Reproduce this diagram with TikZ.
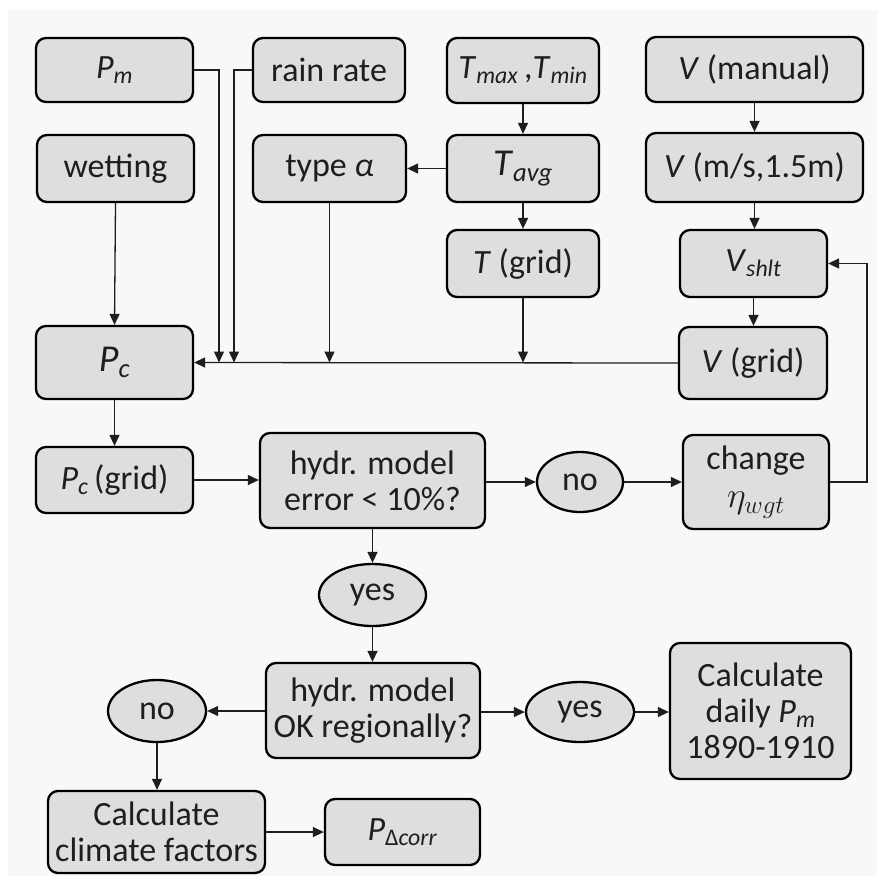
\RequirePackage{fix-cm}
\documentclass[tikz,border=0pt]{standalone}
\usepackage{fontspec}
\setmainfont{Carlito}
\usetikzlibrary{arrows.meta,shapes.geometric}
\definecolor{boxfill}{HTML}{DEDEDE}
\definecolor{panel}{HTML}{F8F8F8}
\definecolor{ink}{HTML}{1E1E1E}
\newcommand{\sbi}[1]{\textsubscript{\textit{#1}}}
\tikzset{
  box/.style={draw=black, line width=2.3pt, fill=boxfill, rounded corners=10pt, align=center,
    text=ink, font=\fontsize{34}{36}\selectfont, inner sep=0pt},
  oval/.style={draw=black, line width=2.3pt, fill=boxfill, ellipse, align=center,
    text=ink, font=\fontsize{34}{36}\selectfont, inner sep=0pt},
  conn/.style={draw=ink, line width=1.3pt},
  arr/.style={conn, -{Triangle[length=11pt,width=10pt]}},
}
\begin{document}
\begin{tikzpicture}[x=1pt,y=-1pt]
\useasboundingbox (0,0) rectangle (877,876);
\fill[white] (0,0) rectangle (877,876);
\fill[panel] (8,10) rectangle (877,876);

\node[box, minimum width=157pt, minimum height=64pt] (Pm) at (114.5,70) {\textit{P}\sbi{m}};
\node[box, minimum width=152pt, minimum height=64pt] (rain) at (329,70) {rain rate};
\node[box, minimum width=157pt, minimum height=67pt] (wet) at (115.5,168.5) {wetting};
\node[box, minimum width=153pt, minimum height=67pt] (typea) at (329.5,168.5) {type \textit{α}};
\node[box, minimum width=152pt, minimum height=65pt] (Tmm) at (523,70.5) {\textit{T}\sbi{max}\,,\textit{T}\sbi{min}};
\node[box, minimum width=217pt, minimum height=65pt] (Vman) at (754.5,69.5) {\textit{V} (manual)};
\node[box, minimum width=152pt, minimum height=67pt] (Tavg) at (523,168.5) {\fontsize{38}{40}\selectfont\textit{T}\sbi{avg}};
\node[box, minimum width=217pt, minimum height=69pt] (Vms) at (754.5,167.5) {\textit{V} (m/s,1.5m)};
\node[box, minimum width=152pt, minimum height=67pt] (Tgrid) at (523,263.5) {\textit{T} (grid)};
\node[box, minimum width=147pt, minimum height=67pt] (Vshlt) at (753.5,263.5) {\textit{V}\sbi{shlt}};
\node[box, minimum width=157pt, minimum height=73pt] (Pc) at (114.5,362.5) {\fontsize{38}{40}\selectfont\textit{P}\sbi{c}};
\node[box, minimum width=148pt, minimum height=72pt] (Vgrid) at (753,363) {\textit{V} (grid)};
\node[box, minimum width=157pt, minimum height=66pt] (Pcg) at (114.5,480) {\textit{P}\sbi{c}\,(grid)};
\node[box, minimum width=225pt, minimum height=95pt] (herr) at (372.5,480.5) {hydr. model\\error \textless{} 10\%?};
\node[oval, minimum width=86pt, minimum height=60pt] (no1) at (580,482) {no};
\node[box, minimum width=146pt, minimum height=94pt] (chg) at (756,482) {change\\[2pt]\fontsize{36}{38}\selectfont$\eta_{wgt}$};
\node[oval, minimum width=107pt, minimum height=62pt] (yes1) at (372.5,595) {yes};
\node[box, minimum width=214pt, minimum height=95pt] (hok) at (373,710.5) {hydr. model\\OK regionally?};
\node[oval, minimum width=98pt, minimum height=62pt] (no2) at (157,711) {no};
\node[oval, minimum width=108pt, minimum height=60pt] (yes2) at (580,712) {yes};
\node[box, minimum width=181pt, minimum height=136pt] (calc) at (760.5,711) {Calculate\\daily \textit{P}\sbi{m}\\1890-1910};
\node[box, minimum width=217pt, minimum height=82pt] (clim) at (156.5,832) {Calculate\\climate factors};
\node[box, minimum width=155pt, minimum height=66pt] (pdc) at (402.5,832) {\textit{P}\textsubscript{Δ\textit{corr}}};

% junction coordinates on the collector line
\coordinate (jPm) at (219,362.5);
\coordinate (jrain) at (234,362.5);
\coordinate (jfb) at (867,482);

\draw[arr] (Vgrid.west) -- (Pc.east);
\draw[arr] (Pm.east) -| (jPm);
\draw[arr] (rain.west) -| (jrain);
\draw[arr] (typea.south) -- (typea.south |- Pc.east);
\draw[arr] (Tgrid.south) -- (Tgrid.south |- Pc.east);
\draw[arr] (wet.south) -- (Pc.north);

\draw[arr] (Tmm.south) -- (Tavg.north);
\draw[arr] (Tavg.south) -- (Tgrid.north);
\draw[arr] (Tavg.west) -- (typea.east);

\draw[arr] (Vman.south) -- (Vms.north);
\draw[arr] (Vms.south) -- (Vms.south |- Vshlt.north);
\draw[arr] (Vshlt.south) -- (Vshlt.south |- Vgrid.north);

\draw[arr] (chg.east) -- (jfb) |- (Vshlt.east);

\draw[arr] (Pc.south) -- (Pcg.north);
\draw[arr] (Pcg.east) -- (Pcg.east -| herr.west);
\draw[arr] (herr.east |- no1.west) -- (no1.west);
\draw[arr] (no1.east) -- (no1.east -| chg.west);

\draw[arr] (herr.south) -- (yes1.north);
\draw[arr] (yes1.south) -- (yes1.south |- hok.north);
\draw[arr] (hok.west |- no2.east) -- (no2.east);
\draw[arr] (hok.east |- yes2.west) -- (yes2.west);
\draw[arr] (yes2.east) -- (yes2.east -| calc.west);
\draw[arr] (no2.south) -- (no2.south |- clim.north);
\draw[arr] (clim.east) -- (clim.east -| pdc.west);
\end{tikzpicture}
\end{document}
